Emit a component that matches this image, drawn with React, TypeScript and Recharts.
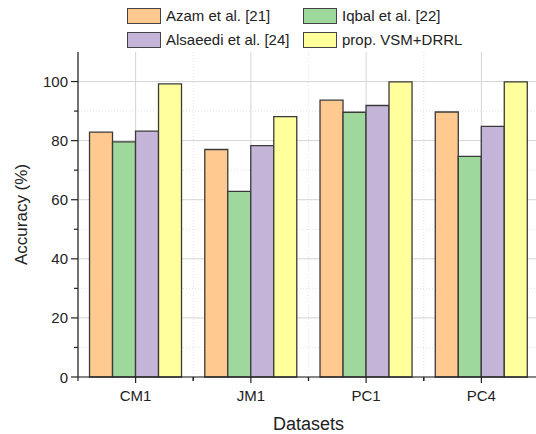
import { Bar, BarChart, CartesianGrid, XAxis, YAxis } from "recharts";

// values
const datasets = ["CM1", "JM1", "PC1", "PC4"];
const azam = [82.9, 77.0, 93.7, 89.7];
const iqbal = [79.6, 62.8, 89.6, 74.7];
const alsaeedi = [83.2, 78.3, 91.9, 84.8];
const proposed = [99.2, 88.1, 99.9, 99.9];

const seriesNames = ["Azam et al. [21]", "Iqbal et al. [22]", "Alsaeedi et al. [24]", "prop. VSM+DRRL"];
const seriesKeys = ["azam", "iqbal", "alsaeedi", "proposed"];
const seriesColors = ["#FFC98F", "#9ED89C", "#C4B4D8", "#FFFF9C"];

const yTicks = [0, 10, 20, 30, 40, 50, 60, 70, 80, 90, 100];
const yMajor = [0, 20, 40, 60, 80, 100];
const yMinor = [10, 30, 50, 70, 90];
const Y_MAX = 110;

const W = 560;
const H = 434;
const MARGIN = { top: 52, right: 21, bottom: 0, left: 18 };
const Y_WIDTH = 60;
const X_HEIGHT = 57;
const AXIS_X = MARGIN.left + Y_WIDTH;
const AXIS_Y = H - MARGIN.bottom - X_HEIGHT;
const PLOT_W = W - MARGIN.left - MARGIN.right - Y_WIDTH;
const FONT = "'Liberation Sans', Arial, sans-serif";
const INK = "#222";

const rows = datasets.map((d, i) => ({
  name: d,
  azam: azam[i],
  iqbal: iqbal[i],
  alsaeedi: alsaeedi[i],
  proposed: proposed[i],
}));

function yPos(v: number, props: any) {
  const s = props?.yAxis?.scale;
  if (typeof s === "function") return s(v);
  const o = props.offset;
  return o.top + o.height * (1 - v / Y_MAX);
}

function bandEdges(props: any) {
  const o = props.offset;
  const n = datasets.length;
  const out: number[] = [];
  for (let i = 1; i < n; i++) out.push(o.left + (o.width * i) / n);
  return out;
}

function YTick(props: any) {
  const { y, payload } = props;
  const v = payload.value;
  const major = v % 20 === 0;
  return (
    <g>
      <line x1={AXIS_X - (major ? 7 : 4)} x2={AXIS_X} y1={y} y2={y} stroke={INK} strokeWidth={1.2} />
      {major && (
        <text x={AXIS_X - 10} y={y} textAnchor="end" dominantBaseline="central" fontSize={15} fontFamily={FONT} fill={INK}>
          {v}
        </text>
      )}
    </g>
  );
}

function XTick(props: any) {
  const { x, payload } = props;
  const half = payload.offset || PLOT_W / datasets.length / 2;
  return (
    <g>
      <line x1={x} x2={x} y1={AXIS_Y} y2={AXIS_Y + 6} stroke={INK} strokeWidth={1.2} />
      <line x1={x - half} x2={x - half} y1={AXIS_Y} y2={AXIS_Y + 4} stroke={INK} strokeWidth={1.2} />
      <line x1={x + half} x2={x + half} y1={AXIS_Y} y2={AXIS_Y + 4} stroke={INK} strokeWidth={1.2} />
      <text x={x} y={AXIS_Y + 24} textAnchor="middle" fontSize={15} fontFamily={FONT} fill={INK}>
        {payload.value}
      </text>
    </g>
  );
}

function Legend() {
  return (
    <div
      style={{
        position: "absolute",
        left: 127,
        top: 8,
        display: "grid",
        gridTemplateColumns: "176px 190px",
        rowGap: 9,
        fontFamily: FONT,
        fontSize: 15,
        color: INK,
      }}
    >
      {seriesNames.map((n, i) => (
        <div key={n} style={{ display: "flex", alignItems: "center", height: 15, whiteSpace: "nowrap" }}>
          <span
            style={{
              display: "inline-block",
              width: 32,
              height: 14,
              background: seriesColors[i],
              border: "1px solid #444",
              marginRight: 5,
            }}
          />
          {n}
        </div>
      ))}
    </div>
  );
}

export default function App() {
  return (
    <div style={{ position: "fixed", left: 0, top: 0, width: 536, height: 434, overflow: "hidden", background: "#fff" }}>
      <BarChart width={W} height={H} data={rows} margin={MARGIN} barCategoryGap="10%" barGap={0}>
        <CartesianGrid
          stroke="#e3e3e3"
          strokeDasharray="1 2"
          horizontalCoordinatesGenerator={(p: any) => yMinor.map((v) => yPos(v, p))}
          verticalCoordinatesGenerator={(p: any) => bandEdges(p)}
        />
        <CartesianGrid
          stroke="#d4d4d4"
          horizontalCoordinatesGenerator={(p: any) => yMajor.map((v) => yPos(v, p))}
        />
        <XAxis
          dataKey="name"
          height={X_HEIGHT}
          axisLine={{ stroke: INK, strokeWidth: 1.2 }}
          tickLine={false}
          tick={<XTick />}
          interval={0}
          label={{
            content: ({ viewBox }: any) => (
              <text
                x={viewBox.x + viewBox.width / 2}
                y={viewBox.y + viewBox.height - 4}
                textAnchor="middle"
                fontSize={18}
                fontFamily={FONT}
                fill={INK}
              >
                Datasets
              </text>
            ),
          }}
        />
        <YAxis
          width={Y_WIDTH}
          domain={[0, Y_MAX]}
          ticks={yTicks}
          interval={0}
          axisLine={{ stroke: INK, strokeWidth: 1.2 }}
          tickLine={false}
          tick={<YTick />}
          label={{
            content: ({ viewBox }: any) => {
              const cx = 21;
              const cy = viewBox.y + viewBox.height / 2;
              return (
                <text
                  x={cx}
                  y={cy}
                  transform={`rotate(-90 ${cx} ${cy})`}
                  textAnchor="middle"
                  dominantBaseline="central"
                  fontSize={17}
                  fontFamily={FONT}
                  fill={INK}
                >
                  Accuracy (%)
                </text>
              );
            },
          }}
        />
        {seriesKeys.map((k, i) => (
          <Bar
            key={k}
            dataKey={k}
            name={seriesNames[i]}
            fill={seriesColors[i]}
            stroke="#3a3a3a"
            strokeWidth={1.3}
            isAnimationActive={false}
          />
        ))}
      </BarChart>
      <Legend />
    </div>
  );
}
